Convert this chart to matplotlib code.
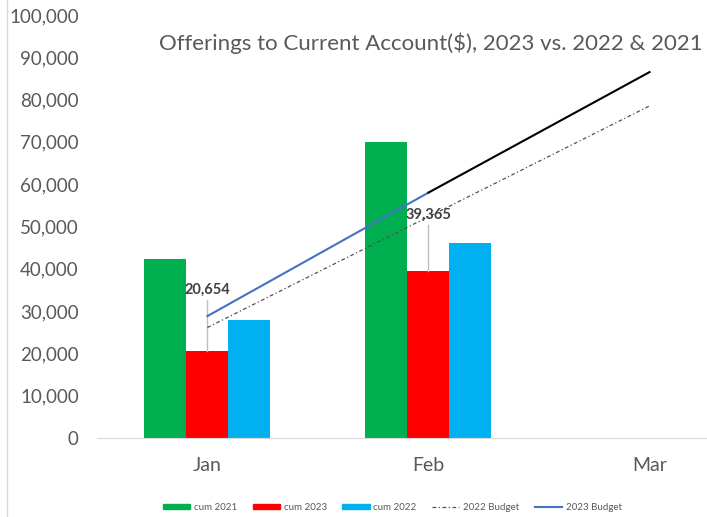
import matplotlib.pyplot as plt
import numpy as np
from matplotlib.lines import Line2D
from matplotlib.ticker import FuncFormatter

months = ["Jan", "Feb", "Mar"]
cum_2021 = [42300, 70000]
cum_2023 = [20654, 39365]
cum_2022 = [27800, 46200]
budget_2022 = [26100, 52300, 78500]
budget_2023 = [28800, 58000, 86500]

plt.rcParams["font.family"] = ["Lato", "DejaVu Sans"]
GRAY = "#595959"

fig = plt.figure(figsize=(7.07, 5.17), dpi=100)
ax = fig.add_axes([0.137, 0.153, 0.863, 0.818])

x = np.arange(len(months))
xb = x[: len(cum_2021)]
w = 0.19
ax.bar(xb - w, cum_2021, w, color="#00B050", label="cum 2021")
ax.bar(xb, cum_2023, w, color="#FF0000", label="cum 2023")
ax.bar(xb + w, cum_2022, w, color="#00B0F0", label="cum 2022")

dashdot = (0, (3, 2, 1, 2))
ax.plot(x, budget_2022, color="#505050", lw=0.9, ls=dashdot, zorder=3)
ax.plot(x[:2], budget_2023[:2], color="#4472C4", lw=1.5, zorder=3)
ax.plot(x[1:], budget_2023[1:], color="black", lw=1.5, zorder=3)

# data labels with leader lines
for xi, v, ly, ty in [(0, cum_2023[0], 32600, 35000), (1, cum_2023[1], 50400, 52700)]:
    ax.plot([xi, xi], [v, ly], color="#bfbfbf", lw=1, zorder=2)
    ax.text(xi, ty, f"{v:,}", ha="center", va="center", fontsize=10.5,
            fontweight="bold", color="#404040")

ax.set_xlim(-0.5, 2.26)
ax.set_ylim(0, 100000)
ax.set_yticks(np.arange(0, 100001, 10000))
ax.yaxis.set_major_formatter(FuncFormatter(lambda v, p: f"{int(v):,}"))
ax.set_xticks(x)
ax.set_xticklabels(months)
ax.tick_params(length=0, labelsize=13.5, colors=GRAY)
ax.tick_params(axis="y", pad=13)
ax.tick_params(axis="x", labelsize=14, pad=14)
for s in ["top", "right", "left"]:
    ax.spines[s].set_visible(False)
ax.spines["bottom"].set_color("#d9d9d9")

fig.text(0.61, 0.917, "Offerings to Current Account($), 2023 vs. 2022 & 2021",
         ha="center", va="center", fontsize=16, color=GRAY)

fig.add_artist(Line2D([0.01, 0.01], [0, 1], color="#d9d9d9", lw=1))

handles = [
    plt.Rectangle((0, 0), 1, 1, color="#00B050"),
    plt.Rectangle((0, 0), 1, 1, color="#FF0000"),
    plt.Rectangle((0, 0), 1, 1, color="#00B0F0"),
    Line2D([], [], color="#505050", lw=0.9, ls=dashdot),
    Line2D([], [], color="#4472C4", lw=1.5),
]
labels = ["cum 2021", "cum 2023", "cum 2022", "2022 Budget", "2023 Budget"]
fig.legend(handles, labels, loc="center", bbox_to_anchor=(0.555, 0.018), ncol=5,
           frameon=False, fontsize=7, labelcolor=GRAY, handlelength=2.8,
           handleheight=0.4, columnspacing=1.6, handletextpad=0.4)

fig.savefig("out.png", dpi=100)
